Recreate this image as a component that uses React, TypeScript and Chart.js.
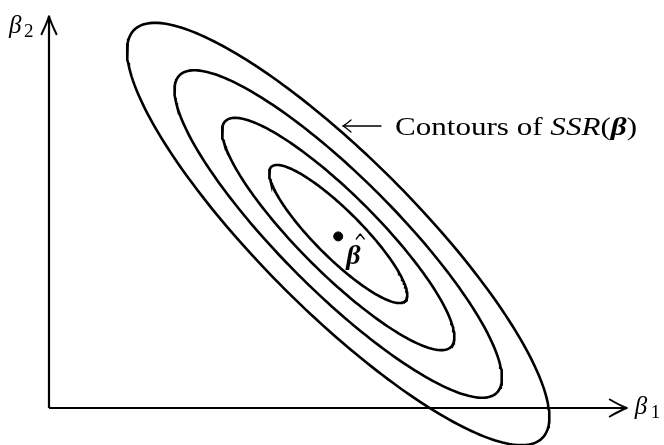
import React, { useEffect, useRef } from "react";
import { Chart, registerables } from "chart.js";

Chart.register(...registerables);

// Least-squares estimate: the common centre of every contour
const betaHat = [4.82, 2.9];
// Contour ellipses, outermost first: semi-axis along the long direction and across it
const contourMajor = [4.81, 3.74, 2.66, 1.58];
const contourMinor = [1.28, 0.95, 0.65, 0.39];
const contourAngleDeg = -45;
// Length of the two coordinate axes
const axisXEnd = 9.63;
const axisYEnd = 6.53;
// Text
const xAxisName = ["β", "1"];
const yAxisName = ["β", "2"];
const annotationRuns = ["Contours of ", "SSR", "(", "β", ")"];
const annotationTip = [4.9, 4.7];

const SERIF = '"Liberation Serif", "DejaVu Serif", serif';

function ellipsePoints(cx: number, cy: number, a: number, b: number, deg: number) {
  const th = (deg * Math.PI) / 180;
  const pts: { x: number; y: number }[] = [];
  const n = 240;
  for (let i = 0; i <= n; i++) {
    const t = (i / n) * Math.PI * 2;
    const u = a * Math.cos(t);
    const v = b * Math.sin(t);
    pts.push({ x: cx + u * Math.cos(th) - v * Math.sin(th), y: cy + u * Math.sin(th) + v * Math.cos(th) });
  }
  return pts;
}

type Run = { text: string; font: string };

function drawRuns(ctx: CanvasRenderingContext2D, runs: Run[], x: number, y: number, width?: number) {
  let total = 0;
  const ws = runs.map((r) => {
    ctx.font = r.font;
    const w = ctx.measureText(r.text).width;
    total += w;
    return w;
  });
  const k = width ? width / total : 1;
  ctx.save();
  ctx.translate(x, y);
  ctx.scale(k, 1);
  let cx = 0;
  runs.forEach((r, i) => {
    ctx.font = r.font;
    ctx.fillText(r.text, cx, 0);
    cx += ws[i];
  });
  ctx.restore();
}

function chevron(ctx: CanvasRenderingContext2D, tx: number, ty: number, dx: number, dy: number, len: number, half: number) {
  // dx,dy: unit direction the arrow points to
  const px = -dy;
  const py = dx;
  const bx = tx - dx * len;
  const by = ty - dy * len;
  const mx = tx - dx * len * 0.35;
  const my = ty - dy * len * 0.35;
  ctx.beginPath();
  ctx.moveTo(bx + px * half, by + py * half);
  ctx.quadraticCurveTo(mx + px * half * 0.25, my + py * half * 0.25, tx, ty);
  ctx.quadraticCurveTo(mx - px * half * 0.25, my - py * half * 0.25, bx - px * half, by - py * half);
  ctx.stroke();
}

const decorations = {
  id: "decorations",
  afterDatasetsDraw(chart: Chart) {
    const ctx = chart.ctx;
    const xs = chart.scales.x;
    const ys = chart.scales.y;
    const X = (v: number) => xs.getPixelForValue(v);
    const Y = (v: number) => ys.getPixelForValue(v);
    ctx.save();
    ctx.strokeStyle = "#000";
    ctx.fillStyle = "#000";
    ctx.lineCap = "round";
    ctx.lineJoin = "round";

    // axis arrowheads
    ctx.lineWidth = 2;
    chevron(ctx, X(axisXEnd), Y(0), 1, 0, 17, 8.5);
    chevron(ctx, X(0), Y(axisYEnd), 0, -1, 18, 7.5);

    // axis names
    ctx.textBaseline = "alphabetic";
    ctx.textAlign = "left";
    ctx.font = `italic 25px ${SERIF}`;
    ctx.fillText(xAxisName[0], X(axisXEnd) + 8, Y(0) + 6);
    ctx.font = `19px ${SERIF}`;
    ctx.fillText(xAxisName[1], X(axisXEnd) + 24, Y(0) + 10);
    ctx.font = `italic 25px ${SERIF}`;
    ctx.fillText(yAxisName[0], 9, Y(axisYEnd) + 17);
    ctx.font = `19px ${SERIF}`;
    ctx.fillText(yAxisName[1], 24, Y(axisYEnd) + 21);

    // beta-hat label next to the estimate
    const hx = X(betaHat[0]) + 8;
    const hy = Y(betaHat[1]) + 30;
    ctx.font = `italic bold 28px ${SERIF}`;
    ctx.fillText("β", hx, hy);
    ctx.lineWidth = 1.3;
    ctx.beginPath();
    ctx.moveTo(hx + 10, hy - 25);
    ctx.lineTo(hx + 14, hy - 30);
    ctx.lineTo(hx + 18, hy - 25);
    ctx.stroke();

    // annotation arrow and text
    const ax = X(annotationTip[0]);
    const ay = Y(annotationTip[1]);
    ctx.lineWidth = 1.3;
    ctx.beginPath();
    ctx.moveTo(ax, ay);
    ctx.lineTo(ax + 38, ay);
    ctx.stroke();
    chevron(ctx, ax, ay, -1, 0, 8, 6);
    drawRuns(
      ctx,
      [
        { text: annotationRuns[0], font: `25px ${SERIF}` },
        { text: annotationRuns[1], font: `italic 25px ${SERIF}` },
        { text: annotationRuns[2], font: `25px ${SERIF}` },
        { text: annotationRuns[3], font: `italic bold 25px ${SERIF}` },
        { text: annotationRuns[4], font: `25px ${SERIF}` },
      ],
      ax + 52,
      ay + 9,
      242
    );
    ctx.restore();
  },
};

export default function App() {
  const ref = useRef<HTMLCanvasElement>(null);
  useEffect(() => {
    document.body.style.margin = "0";
    const contours = contourMajor.map((a, i) => ({
      type: "line" as const,
      data: ellipsePoints(betaHat[0], betaHat[1], a, contourMinor[i], contourAngleDeg),
      borderColor: "#000",
      borderWidth: 2.6,
      pointRadius: 0,
      tension: 0,
      clip: false as const,
    }));
    const chart = new Chart(ref.current!, {
      type: "line",
      data: {
        datasets: [
          {
            data: [{ x: 0, y: 0 }, { x: axisXEnd, y: 0 }],
            borderColor: "#000",
            borderWidth: 2.2,
            pointRadius: 0,
            clip: false,
          },
          {
            data: [{ x: 0, y: 0 }, { x: 0, y: axisYEnd }],
            borderColor: "#000",
            borderWidth: 2.2,
            pointRadius: 0,
            clip: false,
          },
          ...contours,
          {
            type: "scatter",
            data: [{ x: betaHat[0], y: betaHat[1] - 0.04 }],
            backgroundColor: "#000",
            borderColor: "#000",
            pointRadius: 4.5,
            clip: false,
          },
        ] as any,
      },
      options: {
        responsive: false,
        animation: false,
        parsing: false as any,
        layout: { padding: 0, autoPadding: false },
        plugins: { legend: { display: false }, tooltip: { enabled: false } },
        scales: {
          x: { type: "linear", min: -49 / 60, max: 615 / 60, display: false },
          y: { type: "linear", min: -37 / 60, max: 408 / 60, display: false },
        },
      },
      plugins: [decorations],
    });
    return () => chart.destroy();
  }, []);
  return (
    <div style={{ width: 664, height: 445, background: "#fff" }}>
      <canvas ref={ref} width={664} height={445} style={{ display: "block" }} />
    </div>
  );
}
